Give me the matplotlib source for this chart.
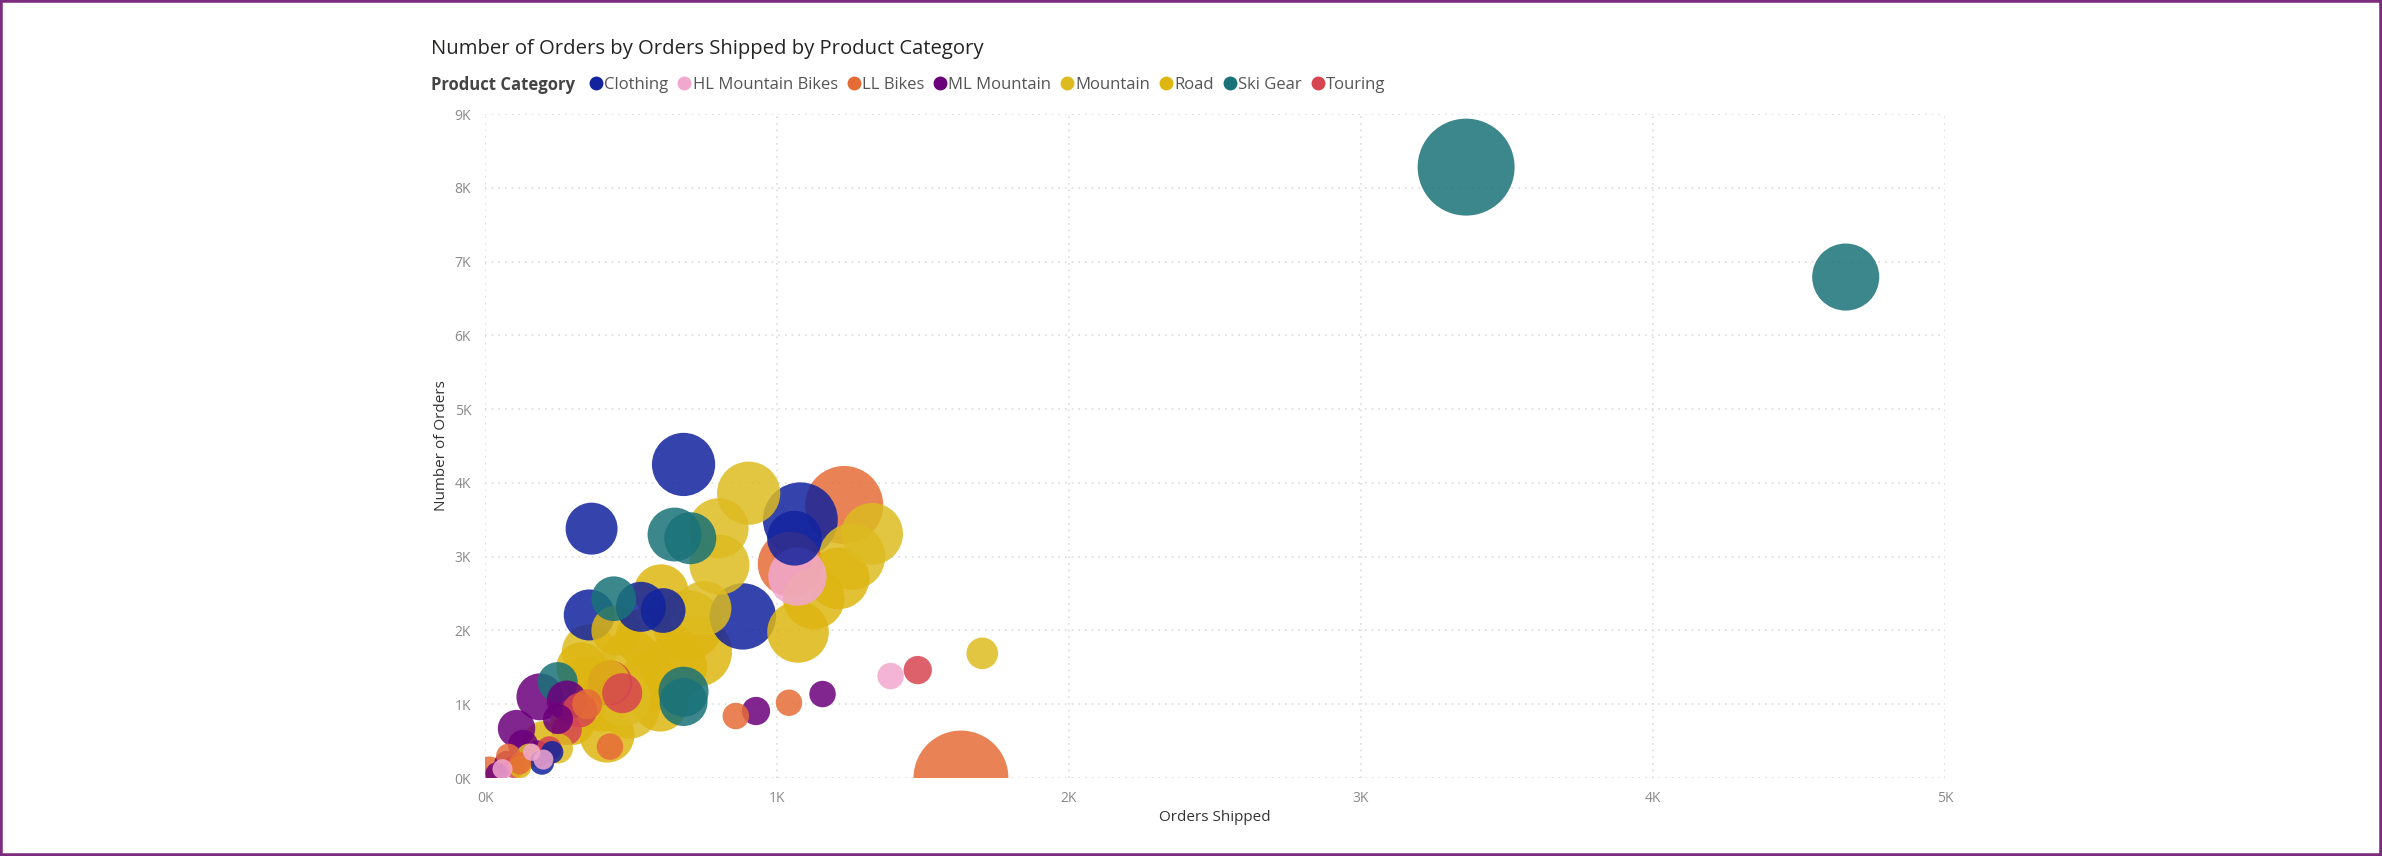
import matplotlib
matplotlib.use("Agg")
import matplotlib.pyplot as plt
from matplotlib.lines import Line2D
from matplotlib.patches import Rectangle
from matplotlib.ticker import FuncFormatter, MultipleLocator
import numpy as np

plt.rcParams["font.family"] = ["Open Sans", "DejaVu Sans"]

CATEGORIES = ["Clothing", "HL Mountain Bikes", "LL Bikes", "ML Mountain",
              "Mountain", "Road", "Ski Gear", "Touring"]
COLORS = ["#12239E", "#F2A7CF", "#E66C37", "#6B007B",
          "#DDBB20", "#DEB612", "#197278", "#D64550"]

# orders shipped, number of orders, bubble size value (per category)
clothing_x = [680, 365, 1080, 1060, 357, 534, 883, 195, 610, 230]
clothing_y = [4250, 3380, 3500, 3250, 2210, 2320, 2190, 210, 2270, 350]
clothing_v = [40, 27, 56, 30, 26, 25, 44, 6, 20, 5]

hl_x = [1070, 1389, 60, 160, 200]
hl_y = [2730, 1382, 120, 350, 250]
hl_v = [34, 7, 4, 3, 4]

ll_x = [1230, 1045, 1630, 859, 1041, 428, 15, 120, 350, 80]
ll_y = [3700, 2900, 0, 840, 1020, 425, 100, 200, 1000, 300]
ll_v = [61, 42, 90, 7, 7, 7, 8, 5, 9, 6]

ml_x = [188, 280, 108, 74, 928, 1156, 180, 40, 250, 130]
ml_y = [1100, 1050, 670, 200, 908, 1138, 330, 60, 800, 450]
ml_v = [22, 16, 14, 6, 8, 7, 7, 5, 9, 9]

mountain_x = [903, 1326, 1257, 800, 803, 1703, 357, 495, 250, 473, 150, 750]
mountain_y = [3860, 3310, 3000, 3385, 2890, 1690, 1710, 940, 400, 1070, 300, 2300]
mountain_v = [40, 38, 44, 36, 36, 10, 30, 36, 9, 30, 6, 30]

road_x = [1211, 1126, 1072, 603, 695, 726, 418, 330, 560, 650, 300, 120, 420,
          500, 400, 600, 550, 200, 450, 350]
road_y = [2706, 2434, 1980, 2525, 2070, 1710, 580, 1500, 1300, 1500, 750, 150, 1300,
          1600, 1000, 1000, 1900, 500, 2000, 1300]
road_v = [38, 38, 38, 30, 49, 49, 30, 25, 36, 42, 20, 5, 20,
          36, 30, 30, 36, 16, 25, 25]

ski_x = [3360, 4660, 649, 703, 680, 680, 441, 249]
ski_y = [8280, 6790, 3300, 3250, 1170, 1030, 2430, 1300]
ski_v = [94, 45, 29, 27, 25, 23, 20, 16]

touring_x = [428, 325, 1482, 100, 220, 470, 280]
touring_y = [1290, 920, 1463, 150, 400, 1150, 650]
touring_v = [20, 12, 8, 5, 6, 16, 9]

series = [
    (clothing_x, clothing_y, clothing_v),
    (hl_x, hl_y, hl_v),
    (ll_x, ll_y, ll_v),
    (ml_x, ml_y, ml_v),
    (mountain_x, mountain_y, mountain_v),
    (road_x, road_y, road_v),
    (ski_x, ski_y, ski_v),
    (touring_x, touring_y, touring_v),
]

# flatten so that bigger bubbles are drawn first
xs, ys, vs, cs = [], [], [], []
for (sx, sy, sv), col in zip(series, COLORS):
    xs += sx
    ys += sy
    vs += sv
    cs += [col] * len(sx)
order = np.argsort(vs, kind="stable")[::-1]
xs = np.array(xs)[order]
ys = np.array(ys)[order]
vs = np.array(vs)[order]
cs = np.array(cs)[order]

fig = plt.figure(figsize=(23.82, 8.56), dpi=100)
ax = fig.add_axes([485 / 2382, 1 - 778 / 856, 1460 / 2382, 664 / 856])

ax.scatter(xs, ys, s=vs * 51.84, c=cs, alpha=0.85, linewidths=0)

ax.set_xlim(0, 5000)
ax.set_ylim(0, 9000)
ax.xaxis.set_major_locator(MultipleLocator(1000))
ax.yaxis.set_major_locator(MultipleLocator(1000))
kfmt = FuncFormatter(lambda v, p: f"{int(round(v / 1000))}K")
ax.xaxis.set_major_formatter(kfmt)
ax.yaxis.set_major_formatter(kfmt)
ax.tick_params(length=0, labelsize=10, labelcolor="#8a8a8a")
ax.tick_params(axis="x", pad=9)
ax.tick_params(axis="y", pad=10)
ax.grid(True, color="#dcdcdc", linestyle=(0, (1, 3)), linewidth=1.2)
ax.set_axisbelow(True)
for sp in ax.spines.values():
    sp.set_visible(False)

ax.set_xlabel("Orders Shipped", fontsize=11, color="#333333", labelpad=3)
ax.set_ylabel("Number of Orders", fontsize=11, color="#333333", labelpad=4)

fig.text(431 / 2382, 1 - 49 / 856, "Number of Orders by Orders Shipped by Product Category",
         fontsize=14.6, color="#252423", va="center", ha="left")
fig.text(431 / 2382, 1 - 85 / 856, "Product Category", fontsize=12,
         fontweight="bold", color="#444444", va="center", ha="left")

handles = [Line2D([], [], marker="o", linestyle="", markersize=10,
                  markerfacecolor=c, markeredgewidth=0) for c in COLORS]
fig.legend(handles, CATEGORIES, loc="center left",
           bbox_to_anchor=(590 / 2382, 1 - 85 / 856), ncol=8, frameon=False,
           fontsize=12, handlelength=0.7, handletextpad=0.15,
           columnspacing=0.6, borderpad=0, borderaxespad=0, labelcolor="#555555")

fig.patches.append(Rectangle((0, 0), 1, 1, transform=fig.transFigure, fill=False,
                             edgecolor="#7B2C7E", linewidth=4, zorder=10))

fig.savefig("out.png", dpi=100)
